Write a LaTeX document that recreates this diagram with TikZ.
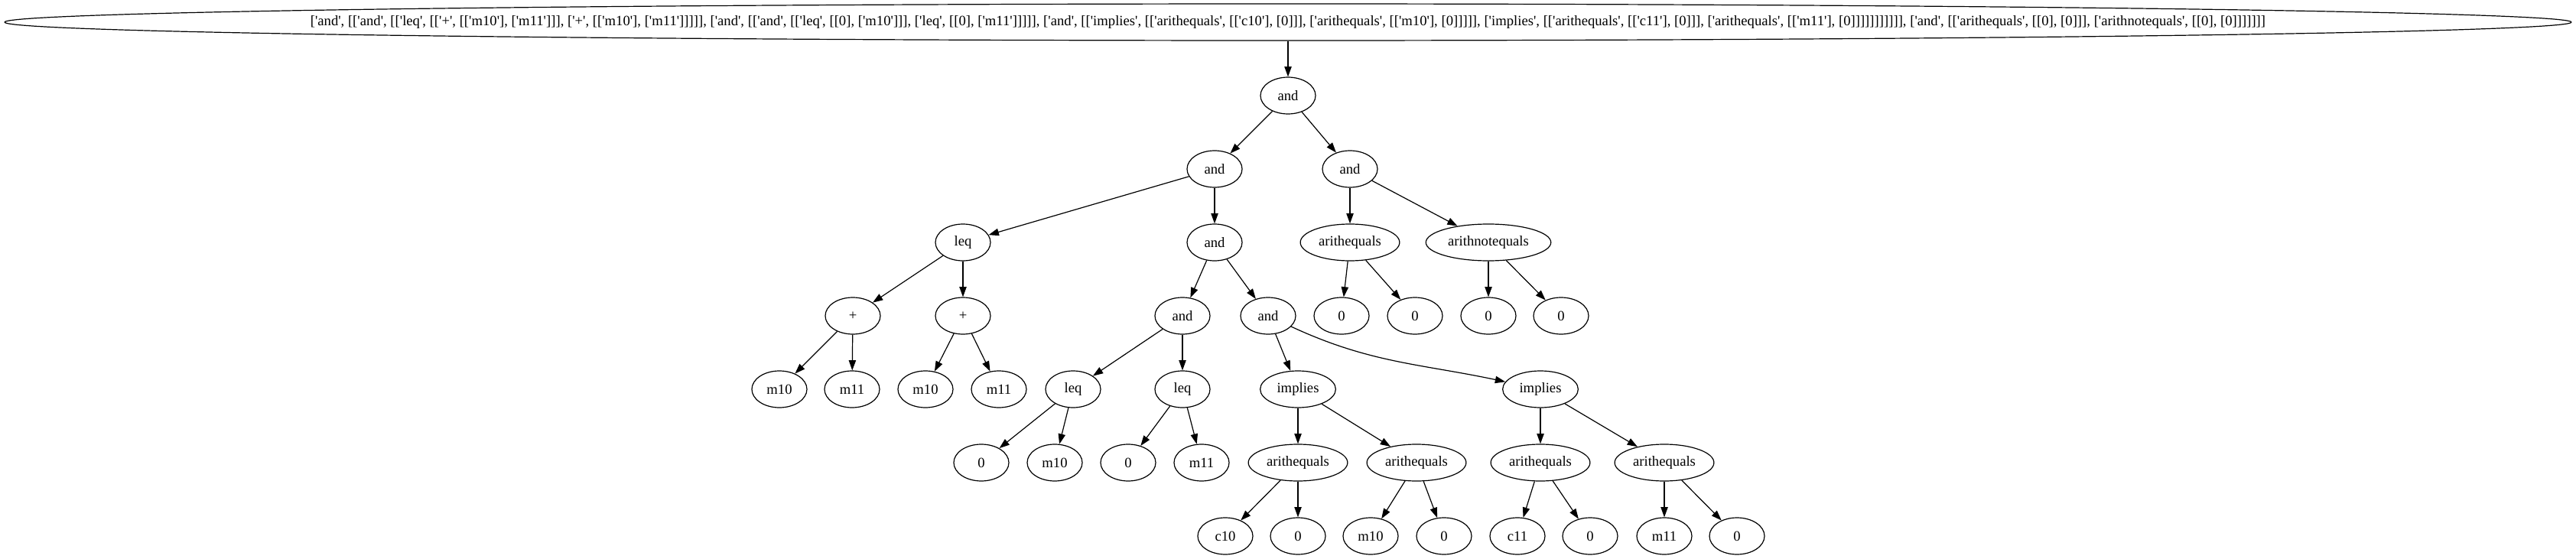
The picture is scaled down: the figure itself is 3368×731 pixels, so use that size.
\documentclass[tikz,border=0pt]{standalone}
\usepackage{fontspec}
\setmainfont{Liberation Serif}[Ligatures=TeXOff]
\usetikzlibrary{arrows.meta,shapes.geometric}

\begin{document}
\begin{tikzpicture}[x=0.75pt,y=-0.75pt,>={Triangle[length=10pt,width=7pt]},line join=round,line width=0.9pt,
  font=\fontsize{14}{17}\selectfont,
  tn/.style={draw,ellipse,minimum width=54pt,minimum height=36pt,inner xsep=3.7pt,inner ysep=0pt}]
\useasboundingbox (0,0) rectangle (3368,731);
% --- root (whole formula)
\node[tn,inner xsep=-150pt,minimum width=2517pt] (root) at (1684,29) {['and', [['and', [['leq', [['+', [['m10'], ['m11']]], ['+', [['m10'], ['m11']]]]], ['and', [['and', [['leq', [[0], ['m10']]], ['leq', [[0], ['m11']]]]], ['and', [['implies', [['arithequals', [['c10'], [0]]], ['arithequals', [['m10'], [0]]]]], ['implies', [['arithequals', [['c11'], [0]]], ['arithequals', [['m11'], [0]]]]]]]]]]], ['and', [['arithequals', [[0], [0]]], ['arithnotequals', [[0], [0]]]]]]]};
% --- levels 1-3
\node[tn] (a1) at (1684,125) {and};
\node[tn] (a2) at (1588,221) {and};
\node[tn] (a3) at (1765,221) {and};
\node[tn] (leq1) at (1259,317) {leq};
\node[tn] (a4) at (1588,317) {and};
\node[tn] (ae1) at (1765,317) {arithequals};
\node[tn] (ane1) at (1946,317) {arithnotequals};
% --- level 4
\node[tn] (p1) at (1115,413) {+};
\node[tn] (p2) at (1259,413) {+};
\node[tn] (a5) at (1546,413) {and};
\node[tn] (a6) at (1658,413) {and};
\foreach \n/\x in {z1/1754,z2/1850,z3/1946,z4/2041} {\node[tn] (\n) at (\x,413) {0};}
% --- level 5
\node[tn] (m10a) at (1019,509) {m10};
\node[tn] (m11a) at (1114,509) {m11};
\node[tn] (m10b) at (1210,509) {m10};
\node[tn] (m11b) at (1306,509) {m11};
\node[tn] (leq2) at (1403,509) {leq};
\node[tn] (leq3) at (1546,509) {leq};
\node[tn,minimum width=74pt] (imp1) at (1697,509) {implies};
\node[tn,minimum width=74pt] (imp2) at (2014,509) {implies};
% --- level 6
\node[tn] (z5) at (1283,605) {0};
\node[tn] (m10c) at (1379,605) {m10};
\node[tn] (z6) at (1475,605) {0};
\node[tn] (m11c) at (1571,605) {m11};
\foreach \n/\x in {ae2/1697,ae3/1852,ae4/2014,ae5/2176} {\node[tn] (\n) at (\x,605) {arithequals};}
% --- level 7
\node[tn] (c10) at (1602,701) {c10};
\node[tn] (m10d) at (1792,701) {m10};
\node[tn] (c11) at (1984,701) {c11};
\node[tn] (m11d) at (2176,701) {m11};
\foreach \n/\x in {z7/1697,z8/1888,z9/2079,z10/2271} {\node[tn] (\n) at (\x,701) {0};}
% --- edges
\foreach \p/\c in {root/a1,a1/a2,a1/a3,a2/leq1,a2/a4,a3/ae1,a3/ane1,leq1/p1,leq1/p2,a4/a5,a4/a6,
  ae1/z1,ae1/z2,ane1/z3,ane1/z4,p1/m10a,p1/m11a,p2/m10b,p2/m11b,a5/leq2,a5/leq3,a6/imp1,
  leq2/z5,leq2/m10c,leq3/z6,leq3/m11c,imp1/ae2,imp1/ae3,imp2/ae4,imp2/ae5,
  ae2/c10,ae2/z7,ae3/m10d,ae3/z8,ae4/c11,ae4/z9,ae5/m11d,ae5/z10}
  {\draw[->] (\p) -- (\c);}
\draw[->] (a6) to[out=-25,in=168] (imp2);
\end{tikzpicture}
\end{document}
